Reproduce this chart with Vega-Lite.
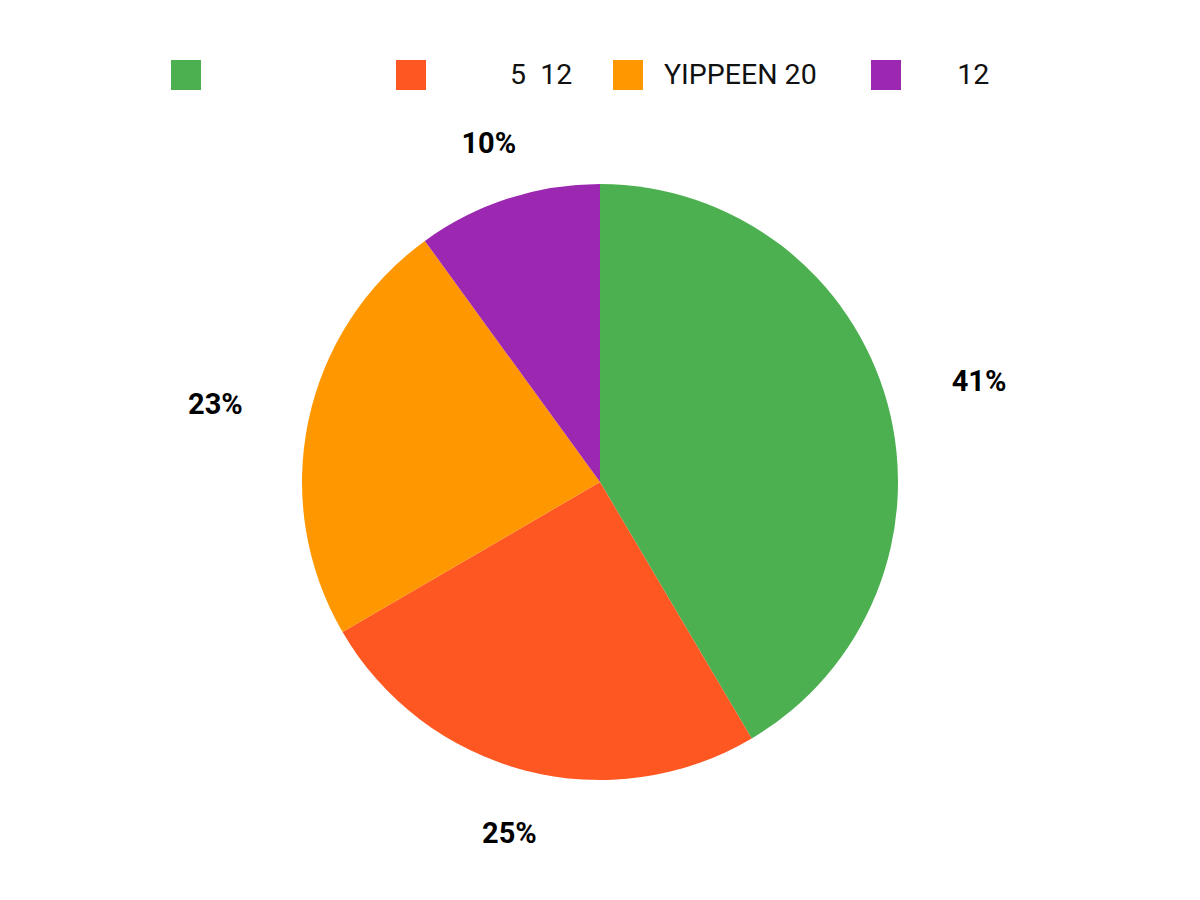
{
  "$schema": "https://vega.github.io/schema/vega-lite/v6.json",
  "width": 1200,
  "height": 836,
  "autosize": "none",
  "padding": {"left": 0, "top": 64, "right": 0, "bottom": 0},
  "background": "white",
  "data": {
    "values": [
      {"category": "\u2800\u2800\u2800\u00a0\u2800\u2800\u2800", "value": 41.5, "label": "41%", "order": 1},
      {"category": "\u2800\u2800\u28005\u00a0\u00a012", "value": 25.1, "label": "25%", "order": 2},
      {"category": "YIPPEEN 20\u00a0\u00a0\u200b", "value": 23.4, "label": "23%", "order": 3},
      {"category": "\u2800\u00a0\u00a012", "value": 10.0, "label": "10%", "order": 4}
    ]
  },
  "encoding": {
    "theta": {"field": "value", "type": "quantitative", "stack": true},
    "order": {"field": "order", "type": "quantitative"},
    "color": {
      "field": "category",
      "type": "nominal",
      "sort": null,
      "scale": {"range": ["#4caf50", "#ff5722", "#ff9800", "#9c27b0"]},
      "legend": {
        "orient": "none",
        "direction": "horizontal",
        "legendX": 171,
        "legendY": -4,
        "title": null,
        "symbolType": "square",
        "symbolSize": 900,
        "symbolStrokeWidth": 0,
        "symbolOpacity": 1,
        "labelFont": "Roboto",
        "labelFontSize": 28.5,
        "labelColor": "#111111",
        "labelOffset": 21,
        "columnPadding": 40,
        "labelLimit": 400
      }
    }
  },
  "layer": [
    {
      "mark": {"type": "arc", "outerRadius": 298}
    },
    {
      "mark": {
        "type": "text",
        "radius": {"expr": "datum.label == '41%' || datum.label == '23%' ? 393 : 360"},
        "dy": 4,
        "font": "Roboto",
        "fontSize": 29,
        "fontWeight": "bold",
        "color": "#000000",
        "align": "center",
        "baseline": "middle"
      },
      "encoding": {
        "text": {"field": "label", "type": "nominal"},
        "color": {"value": "#000000"}
      }
    }
  ]
}
